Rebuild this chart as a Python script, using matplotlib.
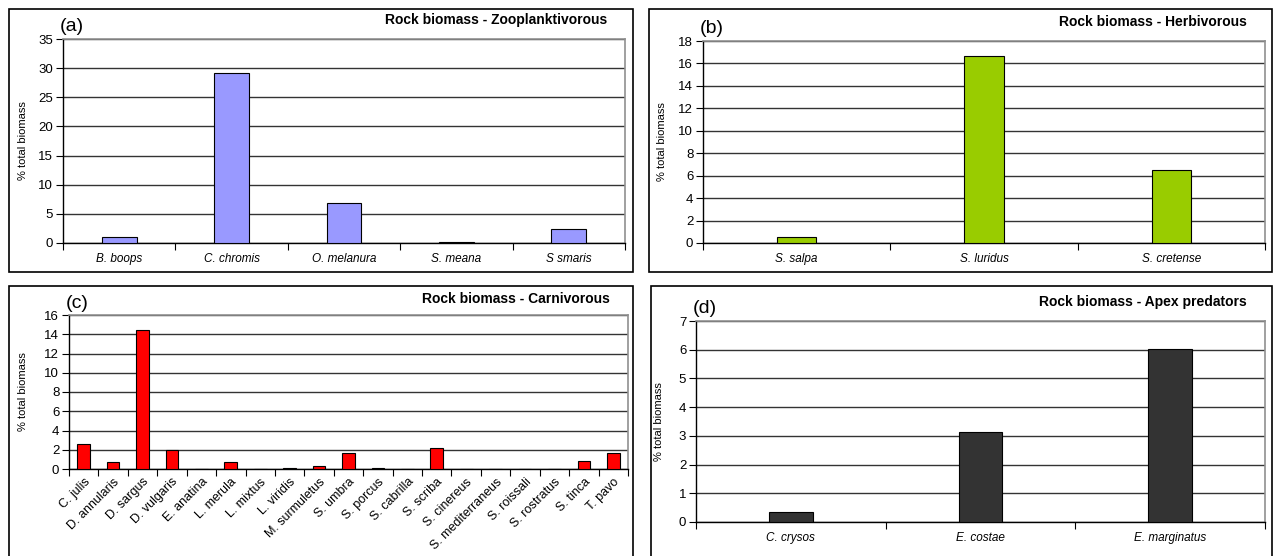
import matplotlib
matplotlib.use("Agg")
import matplotlib.pyplot as plt
from matplotlib.patches import Rectangle
import numpy as np

plt.rcParams['font.family'] = ['Liberation Sans', 'DejaVu Sans']

W, H = 1277, 556

# (a) zooplanktivorous
zoo_species = ['B. boops', 'C. chromis', 'O. melanura', 'S. meana', 'S smaris']
zoo_biomass = [1.1, 29.1, 6.9, 0.15, 2.4]

# (b) herbivorous
herb_species = ['S. salpa', 'S. luridus', 'S. cretense']
herb_biomass = [0.53, 16.7, 6.5]

# (c) carnivorous
carn_species = ['C. julis', 'D. annularis', 'D. sargus', 'D. vulgaris', 'E. anatina',
                'L. merula', 'L. mixtus', 'L. viridis', 'M. surmuletus', 'S. umbra',
                'S. porcus', 'S. cabrilla', 'S. scriba', 'S. cinereus',
                'S. mediterraneus', 'S. roissali', 'S. rostratus', 'S. tinca', 'T. pavo']
carn_biomass = [2.55, 0.7, 14.4, 2.0, 0.0,
                0.7, 0.0, 0.12, 0.35, 1.7,
                0.07, 0.0, 2.2, 0.0,
                0.05, 0.0, 0.0, 0.8, 1.65]

# (d) apex predators
apex_species = ['C. crysos', 'E. costae', 'E. marginatus']
apex_biomass = [0.35, 3.12, 6.03]


def px_axes(fig, left, right, top, bottom):
    return fig.add_axes([left / W, 1 - bottom / H, (right - left) / W, (bottom - top) / H])


def panel_box(fig, left, right, top, bottom):
    fig.patches.append(Rectangle((left / W, 1 - bottom / H), (right - left) / W,
                                 (bottom - top) / H, transform=fig.transFigure,
                                 fill=False, edgecolor='black', linewidth=1.2))


def bar_panel(ax, names, values, color, width, ymax, step, letter, title,
              label_x, italic=True, rotate=False):
    n = len(names)
    x = np.arange(n) + 0.5
    ax.bar(x, values, width=width, color=color, edgecolor='black', linewidth=0.8, zorder=3)
    ax.set_xlim(0, n)
    ax.set_ylim(0, ymax)
    ax.set_yticks(np.arange(0, ymax + step / 2, step))
    ax.yaxis.grid(True, color='#333333', linewidth=1.0, zorder=0)
    ax.set_axisbelow(True)
    # category boundaries carry the tick marks, names sit between them
    ax.set_xticks(np.arange(n + 1))
    ax.set_xticklabels([])
    ax.set_xticks(x, minor=True)
    ax.set_xticklabels(names, minor=True, fontsize=9 if rotate else 8.5,
                       style='italic' if italic else 'normal',
                       rotation=45 if rotate else 0,
                       ha='right' if rotate else 'center',
                       rotation_mode='anchor' if rotate else 'default')
    ax.tick_params(axis='x', which='minor', length=0, pad=7 if not rotate else 5)
    ax.tick_params(axis='x', which='major', length=5, direction='out', width=0.8)
    ax.tick_params(axis='y', length=5, direction='out', width=0.8, labelsize=9.5, pad=2)
    for side in ('top', 'right'):
        ax.spines[side].set_color('#909090')
        ax.spines[side].set_linewidth(1.2)
    for side in ('left', 'bottom'):
        ax.spines[side].set_color('black')
        ax.spines[side].set_linewidth(1.0)
    ax.set_ylabel('% total biomass', fontsize=8)
    ax.yaxis.set_label_coords(label_x, 0.5)
    ax.text(-0.005, 1.02, letter, transform=ax.transAxes, fontsize=14,
            ha='left', va='bottom')
    ax.text(0.968, 1.06, title, transform=ax.transAxes, fontsize=10,
            fontweight='bold', ha='right', va='bottom')


fig = plt.figure(figsize=(W / 100, H / 100), dpi=100)

panel_box(fig, 9, 633, 9, 272)
panel_box(fig, 649, 1272, 9, 272)
panel_box(fig, 9, 633, 286, 570)
panel_box(fig, 651, 1272, 286, 570)

ax_a = px_axes(fig, 63, 625, 39, 243)
bar_panel(ax_a, zoo_species, zoo_biomass, '#9999FF', 0.31, 35, 5,
          '(a)', 'Rock biomass - Zooplanktivorous', -0.0625)

ax_b = px_axes(fig, 703, 1265, 41, 243)
bar_panel(ax_b, herb_species, herb_biomass, '#99CC00', 0.21, 18, 2,
          '(b)', 'Rock biomass - Herbivorous', -0.064)

ax_c = px_axes(fig, 69, 628, 315, 469)
bar_panel(ax_c, carn_species, carn_biomass, '#FF0000', 0.43, 16, 2,
          '(c)', 'Rock biomass - Carnivorous', -0.0725, italic=False, rotate=True)

ax_d = px_axes(fig, 696, 1265, 321, 522)
bar_panel(ax_d, apex_species, apex_biomass, '#333333', 0.23, 7, 1,
          '(d)', 'Rock biomass - Apex predators', -0.0565)

fig.savefig('out.png', dpi=100)
